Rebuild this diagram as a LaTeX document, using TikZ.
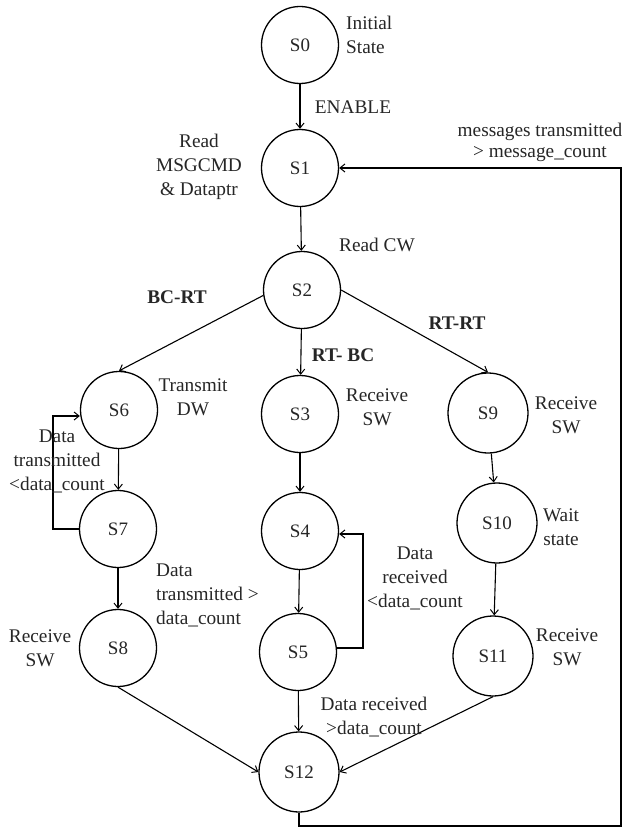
\documentclass[tikz,border=0pt]{standalone}
\usepackage{fontspec}
\setmainfont{Liberation Serif}
\usetikzlibrary{arrows.meta,calc}
\begin{document}
\begin{tikzpicture}[x=1pt,y=-1pt,
  state/.style={circle,draw,line width=1.3pt,minimum size=77pt,inner sep=0pt,font=\fontsize{19}{22}\selectfont},
  wide/.style={minimum size=80pt},
  lbl/.style={font=\fontsize{19.3}{24}\selectfont,align=center,inner sep=0pt},
  bl/.style={lbl,font=\fontsize{19.3}{24}\selectfont\bfseries},
  tr/.style={line width=1.1pt,-{Straight Barb[length=5pt,width=8pt,line width=1pt]}},
  every node/.style={text=black!85}]
\useasboundingbox[fill=white] (0,0) rectangle (625,829);

% states
\node[state] (S0) at (300,45) {S0};
\node[state] (S1) at (300,168) {S1};
\node[state] (S2) at (302,290) {S2};
\node[state] (S6) at (119,410) {S6};
\node[state] (S7) at (118,529) {S7};
\node[state] (S8) at (118,648) {S8};
\node[state] (S3) at (300,414) {S3};
\node[state] (S4) at (300,531) {S4};
\node[state] (S5) at (298,652) {S5};
\node[state,wide] (S12) at (299,772) {S12};
\node[state,wide] (S9) at (488,413) {S9};
\node[state,wide] (S10) at (497,523) {S10};
\node[state,wide] (S11) at (493,656) {S11};

% transitions
\draw[tr] (S0) -- (S1);
\draw[tr] (S1) -- (S2);
\draw[tr] (S2.188) -- (S6.north);
\draw[tr] (S2) -- (S3);
\draw[tr] (S2.east) -- (S9.north);
\draw[tr] (S6) -- (S7);
\draw[tr] (S7) -- (S8);
\draw[tr] (S3) -- (S4);
\draw[tr] (S4) -- (S5);
\draw[tr] (S5) -- (S12);
\draw[tr] (S9) -- (S10);
\draw[tr] (S10) -- (S11);
\draw[tr] (S8.south) -- (S12.west);
\draw[tr] (S11.south) -- (S12.east);

% loops
\coordinate (a1) at (53,529);
\coordinate (a2) at (53,416);
\draw[tr] (S7.west) -- (a1) -- (a2) -- (S6.west |- a2);
\coordinate (b1) at (363,648);
\coordinate (b2) at (363,534);
\draw[tr] (S5.east |- b1) -- (b1) -- (b2) -- ($(S4.east)+(0,3)$);
\coordinate (c1) at (S12.south |- 0,826);
\coordinate (c2) at (621,826);
\coordinate (c3) at (621,168);
\draw[tr] (S12.south) -- (c1) -- (c2) -- (c3) -- (S1.east);

% labels
\node[lbl,anchor=west,align=left] (l0) at (346,35) {Initial\\State};
\node[lbl] (l1) at (353,107) {ENABLE};
\node[lbl] (l2) at (199,167) {Read\\MSGCMD\\\& Dataptr};
\node[lbl,font=\fontsize{19.3}{21}\selectfont] (l3) at (540,142) {messages transmitted\\> message\_count};
\node[lbl] (l4) at (377,245) {Read CW};
\node[bl] (l5) at (177,297) {BC-RT};
\node[bl] (l6) at (343,355) {RT- BC};
\node[bl] (l7) at (457,323) {RT-RT};
\node[lbl] (l8) at (193,397) {Transmit\\DW};
\node[lbl] (l9) at (57,461) {Data\\transmitted\\<data\_count};
\node[lbl] (l10) at (377,407) {Receive\\SW};
\node[lbl] (l11) at (566,415) {Receive\\SW};
\node[lbl] (l12) at (561,527) {Wait\\state};
\node[lbl] (l13) at (415,578) {Data\\received\\<data\_count};
\node[lbl] (l14) at (567,647) {Receive\\SW};
\node[lbl,anchor=west,align=left] (l15) at (156,595) {Data\\transmitted >\\data\_count};
\node[lbl] (l16) at (40,648) {Receive\\SW};
\node[lbl] (l17) at (374,717) {Data received\\>data\_count};
\end{tikzpicture}
\end{document}
